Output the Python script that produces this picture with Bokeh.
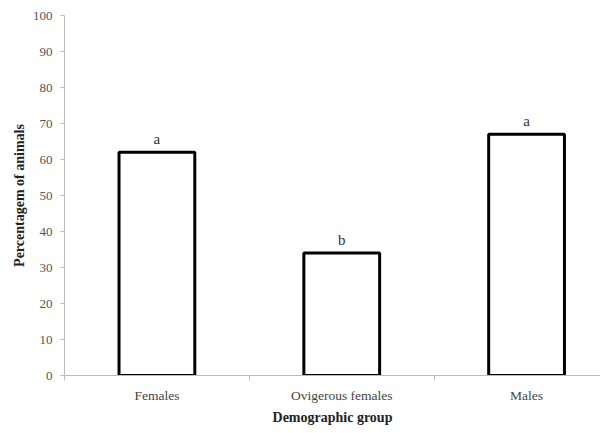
from bokeh.plotting import figure
from bokeh.models import FixedTicker, ColumnDataSource, Range1d
from bokeh.core.properties import value
from bokeh.embed import file_html
from bokeh.resources import INLINE

categories = ["Females", "Ovigerous females", "Males"]
percentages = [62, 34, 67]
letters = ["a", "b", "a"]

xs = [i + 0.5 for i in range(len(categories))]
src = ColumnDataSource(dict(x=xs, top=percentages, lab=letters))

# the original plot area is cropped at the right edge, part-way through the last category
p = figure(width=600, height=427, output_backend="svg", toolbar_location=None,
           x_range=Range1d(0, 2.9), y_range=Range1d(0, 100),
           min_border_left=64, min_border_top=15, min_border_right=0, min_border_bottom=20)
p.outline_line_color = None
p.xgrid.visible = False
p.ygrid.visible = False

p.vbar(x="x", top="top", width=0.41, bottom=0, source=src,
       fill_color="white", line_color="black", line_width=3)
p.text(x="x", y="top", text="lab", source=src, text_align="center",
       text_baseline="bottom", y_offset=-5, text_font=value("Liberation Serif"),
       text_font_size="15px", text_color="#333333")

FONT = "Liberation Serif"
axis_col = "#bbbbbb"
p.yaxis.ticker = FixedTicker(ticks=list(range(0, 101, 10)))
p.yaxis.minor_tick_line_color = None
p.yaxis.major_tick_in = 0
p.yaxis.major_tick_out = 4
p.yaxis.axis_line_color = axis_col
p.yaxis.major_tick_line_color = axis_col
p.yaxis.major_label_text_font = FONT
p.yaxis.major_label_text_font_size = "13px"
p.yaxis.major_label_text_color = "#555555"
p.yaxis.major_label_standoff = 8
p.yaxis.axis_label = "Percentagem of animals"
p.yaxis.axis_label_text_font = FONT
p.yaxis.axis_label_text_font_style = "bold"
p.yaxis.axis_label_text_font_size = "14px"
p.yaxis.axis_label_text_color = "#222222"
p.yaxis.axis_label_standoff = 3

p.xaxis.ticker = FixedTicker(ticks=xs, minor_ticks=list(range(len(categories))))
p.xaxis.major_label_overrides = {x: c for x, c in zip(xs, categories)}
p.xaxis.major_tick_line_color = None
p.xaxis.major_tick_out = 0
p.xaxis.major_tick_in = 0
p.xaxis.minor_tick_in = 0
p.xaxis.minor_tick_out = 5
p.xaxis.minor_tick_line_color = axis_col
p.xaxis.axis_line_color = axis_col
p.xaxis.major_label_text_font = FONT
p.xaxis.major_label_text_font_size = "13.5px"
p.xaxis.major_label_text_color = "#444444"
p.xaxis.major_label_standoff = 7
p.xaxis.axis_label = "Demographic group"
p.xaxis.axis_label_text_font = FONT
p.xaxis.axis_label_text_font_style = "bold"
p.xaxis.axis_label_text_font_size = "14px"
p.xaxis.axis_label_text_color = "#222222"
p.xaxis.axis_label_standoff = 4

open("out.html", "w").write(file_html(p, INLINE))
